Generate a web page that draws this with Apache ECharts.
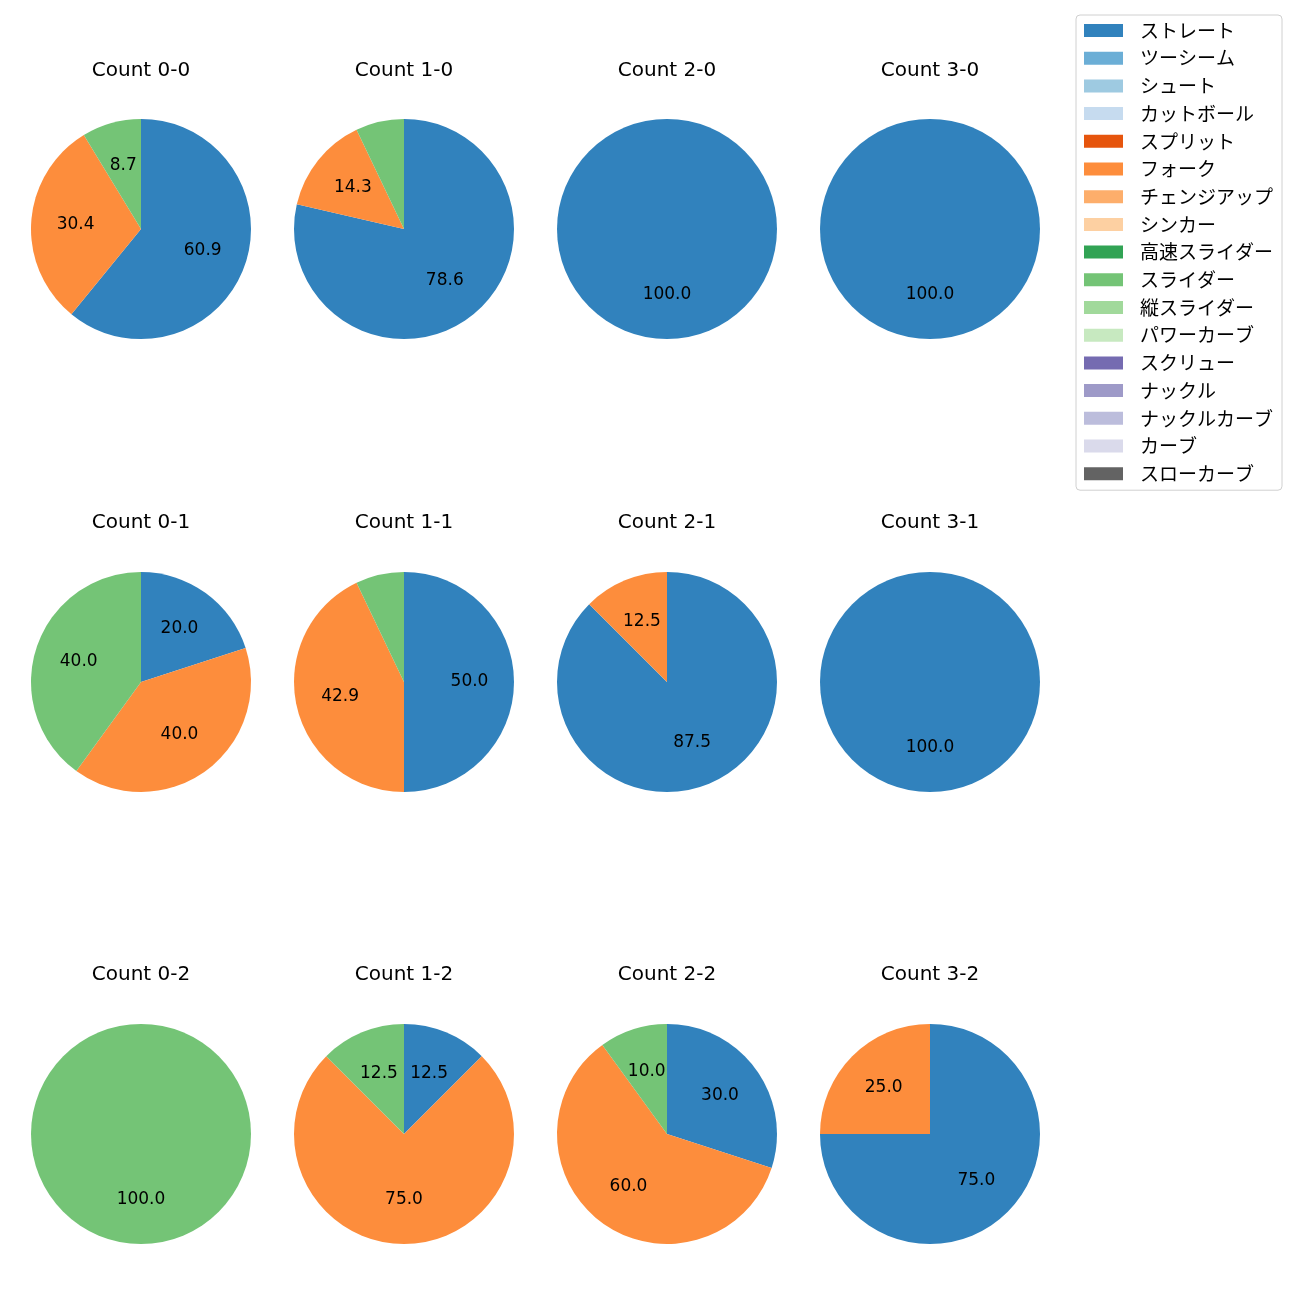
<!DOCTYPE html>
<html>
<head>
<meta charset="utf-8">
<script src="https://cdn.jsdelivr.net/npm/echarts@6/dist/echarts.min.js"></script>
<style>html,body{margin:0;padding:0;background:#fff}#c{width:1300px;height:1300px}</style>
</head>
<body>
<div id="c"></div>
<script>
const pitchTypes = ['ストレート','ツーシーム','シュート','カットボール','スプリット','フォーク','チェンジアップ','シンカー','高速スライダー','スライダー','縦スライダー','パワーカーブ','スクリュー','ナックル','ナックルカーブ','カーブ','スローカーブ'];
const pitchColors = ['#3182bd','#6baed6','#9ecae1','#c6dbef','#e6550d','#fd8d3c','#fdae6b','#fdd0a2','#31a354','#74c476','#a1d99b','#c7e9c0','#756bb1','#9e9ac8','#bcbddc','#dadaeb','#636363'];
const countTitles = ['Count 0-0','Count 1-0','Count 2-0','Count 3-0','Count 0-1','Count 1-1','Count 2-1','Count 3-1','Count 0-2','Count 1-2','Count 2-2','Count 3-2'];
const straightPct = [60.9, 78.6, 100, 100, 20.0, 50.0, 87.5, 100, 0, 12.5, 30.0, 75.0];
const forkPct     = [30.4, 14.3, 0, 0, 40.0, 42.9, 12.5, 0, 0, 75.0, 60.0, 25.0];
const sliderPct   = [8.7, 7.1, 0, 0, 40.0, 7.1, 0, 0, 100, 12.5, 10.0, 0];

const FONT = '"Noto Sans CJK JP", "Noto Sans", sans-serif';
const NUMFONT = '"DejaVu Sans", sans-serif';
const colX = [141, 404, 667, 930];
const rowY = [229, 682, 1134];
const titleY = [71, 523, 975];
const R = 110;

const colorOf = n => pitchColors[pitchTypes.indexOf(n)];
const series = [];
const labelSeries = [];
const titles = [];
countTitles.forEach((t, i) => {
  const cx = colX[i % 4], cy = rowY[Math.floor(i / 4)];
  const items = [
    {name: 'ストレート', value: straightPct[i]},
    {name: 'フォーク', value: forkPct[i]},
    {name: 'スライダー', value: sliderPct[i]}
  ].filter(d => d.value > 0);
  series.push({
    type: 'pie', center: [cx, cy], radius: [0, R], startAngle: 90, clockwise: true,
    silent: true, animation: false,
    label: {show: false}, labelLine: {show: false},
    itemStyle: {borderWidth: 0},
    emphasis: {disabled: true},
    data: items.map(d => ({name: d.name, value: d.value, itemStyle: {color: colorOf(d.name)}}))
  });
  labelSeries.push({
    type: 'pie', center: [cx, cy], radius: [15, R], startAngle: 90, clockwise: true,
    silent: true, animation: false, legendHoverLink: false,
    itemStyle: {color: 'rgba(0,0,0,0)', borderWidth: 0},
    labelLine: {show: false},
    emphasis: {disabled: true},
    label: {
      show: true, position: 'inside', color: '#000', fontSize: 17, fontFamily: NUMFONT,
      formatter: p => (p.value >= 8 ? p.value.toFixed(1) : '')
    },
    data: items.map(d => ({name: d.name + ' ', value: d.value}))
  });
  titles.push({
    text: t, left: cx, top: titleY[Math.floor(i / 4)], textAlign: 'center', textVerticalAlign: 'middle',
    padding: 0,
    textStyle: {fontSize: 20, fontWeight: 'normal', color: '#000', fontFamily: NUMFONT}
  });
});

// full legend reference series (invisible, zero radius) so every pitch type appears
series.unshift({
  type: 'pie', center: [-100, -100], radius: [0, 0], silent: true, animation: false,
  label: {show: false}, labelLine: {show: false},
  data: pitchTypes.map((n, k) => ({name: n, value: 1, itemStyle: {color: pitchColors[k]}}))
});

const chart = echarts.init(document.getElementById('c'), null, {renderer: 'canvas'});
chart.setOption({
  backgroundColor: '#fff',
  animation: false,
  title: titles,
  legend: {
    data: pitchTypes,
    orient: 'vertical', left: 1076, top: 15,
    icon: 'rect', itemWidth: 39, itemHeight: 13, itemGap: 7.7,
    padding: [5.5, 9, 6.5, 8],
    borderColor: '#d0d0d0', borderWidth: 1, borderRadius: 4,
    selectedMode: false,
    textStyle: {fontSize: 19, color: '#000', fontFamily: FONT, padding: [0, 0, 0, 12], lineHeight: 20}
  },
  series: series.concat(labelSeries)
});
</script>
</body>
</html>
